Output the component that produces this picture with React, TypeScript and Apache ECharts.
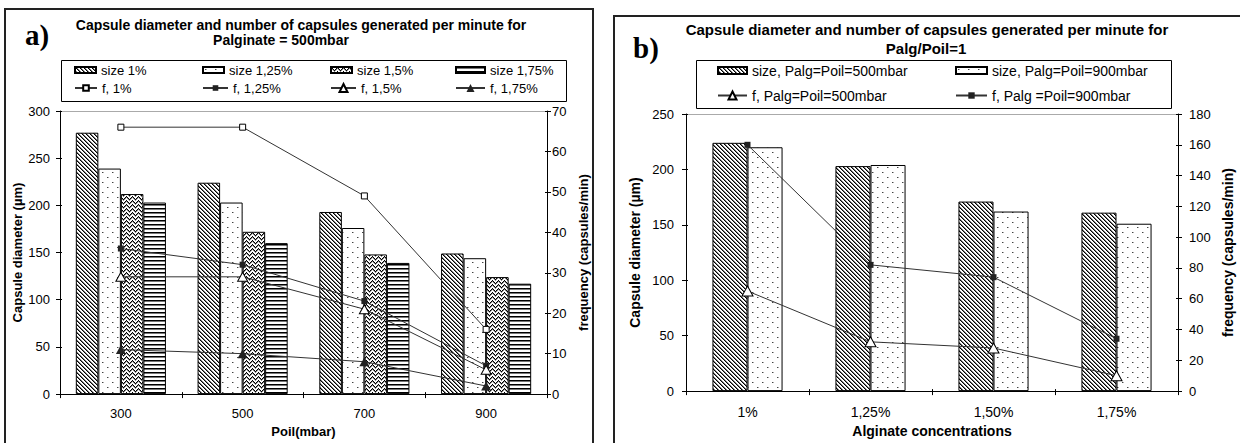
import React, { useEffect, useRef } from 'react';
import * as echarts from 'echarts';

// ---------- data: chart a ----------
const poilCategories = ['300', '500', '700', '900'];
const size1 = [277, 224, 193, 149];
const size125 = [239, 203, 176, 144];
const size15 = [212, 172, 148, 124];
const size175 = [203, 160, 139, 117];
const f1 = [66, 66, 49, 16];
const f125 = [36, 32, 23, 7];
const f15 = [29, 29, 21, 6];
const f175 = [11, 10, 8, 2];

// ---------- data: chart b ----------
const algCategories = ['1%', '1,25%', '1,50%', '1,75%'];
const size500 = [224, 203, 171, 161];
const size900 = [220, 204, 162, 151];
const f500 = [65, 32, 28, 10];
const f900 = [160, 82, 74, 34];

const FONT = '"Liberation Sans", Arial, sans-serif';

function makeTile(w: number, h: number, fn: (x: number, y: number) => string | null) {
  const c = document.createElement('canvas');
  c.width = w;
  c.height = h;
  const ctx = c.getContext('2d')!;
  ctx.fillStyle = '#fff';
  ctx.fillRect(0, 0, w, h);
  for (let y = 0; y < h; y++) {
    for (let x = 0; x < w; x++) {
      const col = fn(x, y);
      if (col) {
        ctx.fillStyle = col;
        ctx.fillRect(x, y, 1, 1);
      }
    }
  }
  return { image: c as any, repeat: 'repeat', imageWidth: w, imageHeight: h } as any;
}

function patterns() {
  const diag = makeTile(4, 4, (x, y) => {
    const m = (x - y + 8) % 4;
    return m === 0 ? '#000' : m === 1 ? '#777' : null;
  });
  const dots = makeTile(10, 10, (x, y) => {
    if ((x === 2 && y === 2) || (x === 7 && y === 7)) return '#444';
    if ((x === 3 && y === 2) || (x === 8 && y === 7)) return '#aaa';
    return null;
  });
  const zz = [0, 1, 2, 3, 2, 1];
  const zig = makeTile(6, 4, (x, y) => {
    const m = (y - zz[x] + 8) % 4;
    return m === 0 ? '#000' : m === 1 ? '#888' : null;
  });
  const horiz = makeTile(4, 4, (x, y) => (y === 0 ? '#000' : y === 1 ? '#777' : null));
  return { diag, dots, zig, horiz };
}

export default function App() {
  const ref = useRef<HTMLDivElement>(null);
  useEffect(() => {
    const chart = echarts.init(ref.current!, null, { renderer: 'svg' });
    const p = patterns();
    const axisLine = { show: true, lineStyle: { color: '#000', width: 1 } };
    const tick = { show: true, length: 4, lineStyle: { color: '#000' } };
    const innerTick = { show: true, inside: true, length: 2, lineStyle: { color: '#000' } };
    const barBase = (name: string, data: number[], color: any, xi: number, yi: number, gap: string) => ({
      name, type: 'bar', data, xAxisIndex: xi, yAxisIndex: yi,
      barGap: '0%', barCategoryGap: gap,
      itemStyle: { color, borderColor: '#000', borderWidth: 1 },
      emphasis: { disabled: true }, silent: true, z: 2,
    });
    const lineBase = (name: string, data: number[], symbol: string, size: any, fill: string, xi: number, yi: number) => ({
      name, type: 'line', data, xAxisIndex: xi, yAxisIndex: yi,
      symbol, symbolSize: size,
      itemStyle: fill === '#fff'
        ? { color: fill, borderColor: '#000', borderWidth: 1 }
        : { color: fill, borderWidth: 0 },
      lineStyle: { color: '#333', width: 1 },
      emphasis: { disabled: true }, silent: true, z: 5,
    });
    const leg = (name: string, left: number, top: number, w: number, h: number, fs: number, icon?: string) => ({
      data: [name], left, top, padding: 0, itemWidth: w, itemHeight: h,
      selectedMode: false, icon,
      textStyle: { fontFamily: FONT, fontSize: fs, color: '#000', lineHeight: fs + 1 },
    });
    const txt = (text: string, x: number, y: number, font: string, align = 'center') => ({
      type: 'text', x, y, silent: true, z: 100,
      style: { text, font, fill: '#000', textAlign: align, align, textVerticalAlign: 'middle', verticalAlign: 'middle' },
    });
    // helper axes that only draw the inner half of the crossing tick marks
    const innerX = (gi: number, data: string[]) => ({
      type: 'category', gridIndex: gi, data, position: 'bottom',
      axisLine: { show: false }, axisTick: innerTick, axisLabel: { show: false }, splitLine: { show: false },
    });
    const innerY = (gi: number, pos: string, max: number, interval: number) => ({
      type: 'value', gridIndex: gi, position: pos, offset: 0, min: 0, max, interval,
      axisLine: { show: false }, axisTick: innerTick, axisLabel: { show: false }, splitLine: { show: false },
    });

    const option: any = {
      animation: false,
      backgroundColor: '#fff',
      textStyle: { fontFamily: FONT },
      grid: [
        { left: 60, top: 111, width: 487, height: 294 },
        { left: 686, top: 114, width: 492, height: 280 },
      ],
      xAxis: [
        {
          type: 'category', gridIndex: 0, data: poilCategories, position: 'bottom',
          axisLine, axisTick: tick,
          axisLabel: { margin: 13, fontSize: 13, color: '#000', fontFamily: FONT },
          name: 'Poil(mbar)', nameLocation: 'middle', nameGap: 22,
          nameTextStyle: { fontWeight: 'bold', fontSize: 13, color: '#000', fontFamily: FONT },
        },
        {
          type: 'category', gridIndex: 1, data: algCategories, position: 'bottom',
          axisLine, axisTick: tick,
          axisLabel: { margin: 14, fontSize: 14, color: '#000', fontFamily: FONT },
          name: 'Alginate concentrations', nameLocation: 'middle', nameGap: 32,
          nameTextStyle: { fontWeight: 'bold', fontSize: 14, color: '#000', fontFamily: FONT },
        },
        innerX(0, poilCategories),
        innerX(1, algCategories),
      ],
      yAxis: [
        {
          type: 'value', gridIndex: 0, position: 'left', min: 0, max: 300, interval: 50,
          axisLine, axisTick: tick, splitLine: { show: false },
          axisLabel: { margin: 10, fontSize: 13, color: '#000', fontFamily: FONT },
          name: 'Capsule diameter (µm)', nameLocation: 'middle', nameRotate: 90, nameGap: 35,
          nameTextStyle: { fontWeight: 'bold', fontSize: 13, color: '#000', fontFamily: FONT },
        },
        {
          type: 'value', gridIndex: 0, position: 'right', min: 0, max: 70, interval: 10,
          axisLine, axisTick: tick, splitLine: { show: false },
          axisLabel: { margin: 5, fontSize: 13, color: '#000', fontFamily: FONT },
          name: 'frequency (capsules/min)', nameLocation: 'middle', nameRotate: 90, nameGap: 30,
          nameTextStyle: { fontWeight: 'bold', fontSize: 13, color: '#000', fontFamily: FONT },
        },
        {
          type: 'value', gridIndex: 1, position: 'left', min: 0, max: 250, interval: 50,
          axisLine, axisTick: tick, splitLine: { show: false },
          axisLabel: { margin: 12, fontSize: 13, color: '#000', fontFamily: FONT },
          name: 'Capsule diameter (µm)', nameLocation: 'middle', nameRotate: 90, nameGap: 44,
          nameTextStyle: { fontWeight: 'bold', fontSize: 14, color: '#000', fontFamily: FONT },
        },
        {
          type: 'value', gridIndex: 1, position: 'right', min: 0, max: 180, interval: 20,
          axisLine, axisTick: tick, splitLine: { show: false },
          axisLabel: { margin: 11, fontSize: 13, color: '#000', fontFamily: FONT },
          name: 'frequency (capsules/min)', nameLocation: 'middle', nameRotate: 90, nameGap: 43,
          nameTextStyle: { fontWeight: 'bold', fontSize: 14, color: '#000', fontFamily: FONT },
        },
        innerY(0, 'left', 300, 50),
        innerY(0, 'right', 70, 10),
        innerY(1, 'left', 250, 50),
        innerY(1, 'right', 180, 20),
      ],
      legend: [
        leg('size 1%', 74, 63, 21, 6, 13, 'rect'),
        leg('size 1,25%', 202, 63, 21, 6, 13, 'rect'),
        leg('size 1,5%', 330, 63, 21, 6, 13, 'rect'),
        leg('size 1,75%', 455, 63, 29, 6, 13, 'rect'),
        leg('f, 1%', 74, 81, 22, 7, 13),
        leg('f, 1,25%', 202, 81, 25, 7, 13),
        leg('f, 1,5%', 330, 81, 25, 10, 13),
        leg('f, 1,75%', 455, 81, 29, 10, 13),
        leg('size, Palg=Poil=500mbar', 717, 63, 29, 7, 14, 'rect'),
        leg('size, Palg=Poil=900mbar', 955, 63, 31, 7, 14, 'rect'),
        leg('f, Palg=Poil=500mbar', 717, 88, 29, 10, 14),
        leg('f, Palg =Poil=900mbar', 955, 88, 31, 8, 14),
      ],
      series: [
        barBase('size 1%', size1, p.diag, 0, 0, '26%'),
        barBase('size 1,25%', size125, p.dots, 0, 0, '26%'),
        barBase('size 1,5%', size15, p.zig, 0, 0, '26%'),
        barBase('size 1,75%', size175, p.horiz, 0, 0, '26%'),
        lineBase('f, 1%', f1, 'rect', 6, '#fff', 0, 1),
        lineBase('f, 1,25%', f125, 'rect', 6, '#222', 0, 1),
        lineBase('f, 1,5%', f15, 'triangle', [10, 9], '#fff', 0, 1),
        lineBase('f, 1,75%', f175, 'triangle', [10, 9], '#222', 0, 1),
        barBase('size, Palg=Poil=500mbar', size500, p.diag, 1, 2, '43%'),
        barBase('size, Palg=Poil=900mbar', size900, p.dots, 1, 2, '43%'),
        lineBase('f, Palg=Poil=500mbar', f500, 'triangle', [11, 10], '#fff', 1, 3),
        lineBase('f, Palg =Poil=900mbar', f900, 'rect', 6, '#222', 1, 3),
      ],
      graphic: [
        { type: 'rect', silent: true, shape: { x: 5, y: 9, width: 588, height: 460 }, style: { fill: 'none', stroke: '#222', lineWidth: 2 } },
        { type: 'rect', silent: true, shape: { x: 614, y: 16, width: 640, height: 460 }, style: { fill: 'none', stroke: '#222', lineWidth: 2 } },
        { type: 'rect', silent: true, shape: { x: 61.5, y: 60.5, width: 505, height: 41 }, style: { fill: 'none', stroke: '#000', lineWidth: 1 } },
        { type: 'rect', silent: true, shape: { x: 696.5, y: 60.5, width: 475, height: 48 }, style: { fill: 'none', stroke: '#000', lineWidth: 1 } },
        { type: 'line', silent: true, shape: { x1: 60, y1: 111.5, x2: 547, y2: 111.5 }, style: { stroke: '#aaa', lineWidth: 1 } },
        { type: 'line', silent: true, shape: { x1: 686, y1: 114.5, x2: 1178, y2: 114.5 }, style: { stroke: '#aaa', lineWidth: 1 } },
        txt('Capsule diameter and number of capsules generated per minute for', 301, 25, `bold 14px ${FONT}`),
        txt('Palginate = 500mbar', 281, 40, `bold 14px ${FONT}`),
        txt('Capsule diameter and number of capsules generated per minute for', 927, 29, `bold 15px ${FONT}`),
        txt('Palg/Poil=1', 926, 48, `bold 15px ${FONT}`),
        txt('a)', 25, 35, `bold 29px "Liberation Serif", "Times New Roman", serif`, 'left'),
        txt('b)', 633, 48, `bold 29px "Liberation Serif", "Times New Roman", serif`, 'left'),
      ],
    };
    chart.setOption(option);
    return () => chart.dispose();
  }, []);
  return (
    <div
      ref={ref}
      style={{ position: 'fixed', left: 0, top: 0, width: 1240, height: 443, background: '#fff' }}
    />
  );
}
